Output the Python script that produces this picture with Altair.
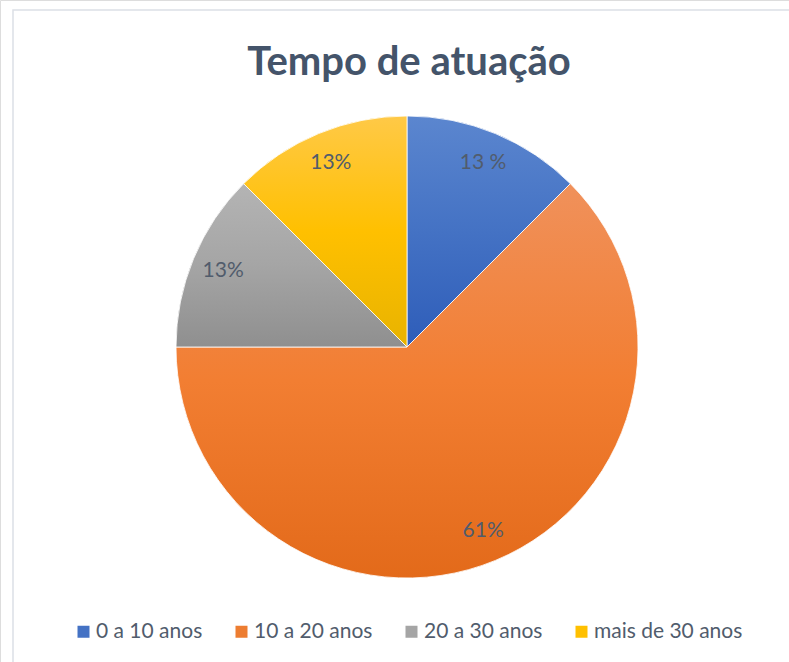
import altair as alt
import pandas as pd

categories = ["0 a 10 anos", "10 a 20 anos", "20 a 30 anos", "mais de 30 anos"]
values = [12.5, 62.5, 12.5, 12.5]
labels = ["13 %", "61%", "13%", "13%"]
order = [0, 1, 2, 3]
title_text = ["Tempo de atuação"]

flat_colors = ["#4472C4", "#ED7D31", "#A5A5A5", "#FFC000"]
gradients = {
    "0 a 10 anos": ["#5B86CF", "#4472C4", "#2E5DB9"],
    "10 a 20 anos": ["#F0915B", "#F27E32", "#E36A1A"],
    "20 a 30 anos": ["#B4B4B4", "#A5A5A5", "#8F8F8F"],
    "mais de 30 anos": ["#FFC947", "#FFC000", "#E8B300"],
}

df = pd.DataFrame({"cat": categories, "value": values, "label": labels, "order": order})

W, H = 789, 662
CX, CY = 407, 347
R = 231
TEXT_COLOR = "#515C6C"
FONT = "Lato"

theta_scale = alt.Scale(domain=[0, 100])

base = (
    alt.Chart(df)
    .transform_window(cum="sum(value)", sort=[alt.SortField("order")], frame=[None, 0])
    .transform_calculate(start="datum.cum - datum.value", mid="datum.cum - datum.value / 2")
)

flat = base.mark_arc(radius=R, stroke="white", strokeWidth=0.8).encode(
    theta=alt.Theta("start:Q", scale=theta_scale),
    theta2="cum:Q",
    color=alt.Color(
        "cat:N",
        scale=alt.Scale(domain=categories, range=flat_colors),
        sort=categories,
        legend=alt.Legend(
            title=None,
            orient="none",
            direction="horizontal",
            legendX=73,
            legendY=621,
            symbolType="square",
            symbolSize=144,
            symbolStrokeWidth=0,
            labelFont=FONT,
            labelFontSize=21,
            labelColor=TEXT_COLOR,
            labelOffset=2,
            columnPadding=28,
            padding=0,
        ),
    ),
    x=alt.value(CX),
    y=alt.value(CY),
)

grad_layers = []
for cat in categories:
    c0, c1, c2 = gradients[cat]
    grad = alt.LinearGradient(
        gradient="linear",
        stops=[
            alt.GradientStop(color=c0, offset=0),
            alt.GradientStop(color=c1, offset=0.5),
            alt.GradientStop(color=c2, offset=1),
        ],
        x1=0, x2=0, y1=0, y2=1,
    )
    layer = base.transform_filter(alt.datum.cat == cat).mark_arc(
        radius=R, fill=grad, stroke="white", strokeWidth=0.8
    ).encode(
        theta=alt.Theta("start:Q", scale=theta_scale),
        theta2="cum:Q",
        x=alt.value(CX),
        y=alt.value(CY),
    )
    grad_layers.append(layer)

text = base.mark_text(radius=199, font=FONT, fontSize=21, color=TEXT_COLOR, baseline="middle").encode(
    theta=alt.Theta("mid:Q", scale=theta_scale),
    text="label:N",
    x=alt.value(CX),
    y=alt.value(CY),
)

title = alt.Chart(pd.DataFrame({"t": title_text})).mark_text(
    font=FONT, fontSize=40, fontWeight="bold", color="#44546A", baseline="alphabetic", align="center"
).encode(text="t:N", x=alt.value(409), y=alt.value(75))

border = alt.Chart(pd.DataFrame({"a": [0]})).mark_rect(
    fill=None, stroke="#DCE0E6", strokeWidth=1.5
).encode(
    x=alt.value(13), x2=alt.value(W + 20), y=alt.value(10), y2=alt.value(H + 20)
)

chart = alt.layer(border, flat, *grad_layers, text, title).properties(
    width=W,
    height=H,
    padding=0,
    autosize=alt.AutoSizeParams(type="none"),
).configure_view(stroke=None).configure(background="white")

chart.save("out.html", embed_options={"renderer": "svg", "actions": False})
